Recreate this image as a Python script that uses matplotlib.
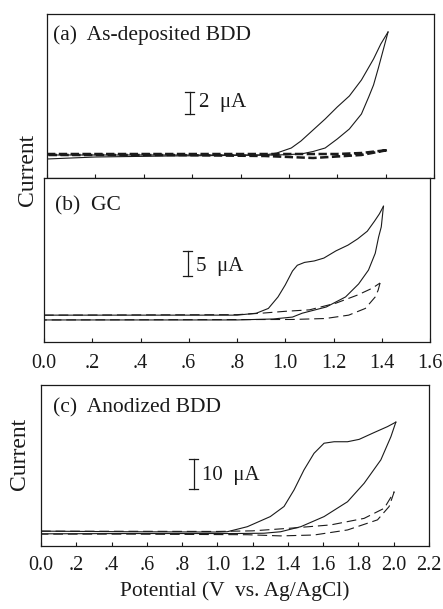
import matplotlib
matplotlib.use("Agg")
import matplotlib.pyplot as plt

plt.rcParams["font.family"] = ["Liberation Serif", "DejaVu Serif"]
plt.rcParams["lines.scale_dashes"] = False

INK = "#1a1a1a"

# (a) As-deposited BDD, current in uA
a_fwd_v = [0.0, 0.3, 0.6, 0.90, 0.95, 1.01, 1.05, 1.10, 1.15, 1.20, 1.25, 1.30, 1.35, 1.38, 1.41]
a_fwd_i = [0.0, 0.0, 0.0, 0.0, 0.2, 0.7, 1.4, 2.5, 3.6, 4.8, 5.9, 7.5, 9.6, 11.1, 12.3]
a_rev_v = [1.41, 1.39, 1.37, 1.35, 1.33, 1.30, 1.25, 1.20, 1.15, 1.10, 1.05, 0.95, 0.5, 0.2, 0.0]
a_rev_i = [12.3, 10.5, 8.7, 7.0, 5.8, 4.1, 2.6, 1.6, 0.7, 0.35, 0.1, 0.0, -0.1, -0.2, -0.4]
a_bg_v = [0.0, 0.6, 1.0, 1.2, 1.3, 1.41, 1.3, 1.1, 0.9, 0.5, 0.0]
a_bg_i = [0.1, 0.1, 0.1, 0.1, 0.2, 0.5, 0.0, -0.3, -0.1, 0.0, 0.0]

# (b) GC
b_fwd_v = [0.0, 0.8, 0.88, 0.93, 0.97, 1.00, 1.03, 1.05, 1.08, 1.12, 1.16, 1.21, 1.26, 1.30, 1.34, 1.37, 1.39, 1.407]
b_fwd_i = [0.4, 0.4, 0.8, 1.8, 4.2, 6.7, 9.6, 10.8, 11.4, 11.7, 12.3, 13.8, 15.0, 16.3, 17.9, 20.0, 21.5, 23.1]
b_rev_v = [1.407, 1.398, 1.387, 1.373, 1.345, 1.304, 1.25, 1.17, 1.07, 1.03, 0.95, 0.8, 0.0]
b_rev_i = [23.1, 18.8, 16.7, 13.3, 9.8, 6.9, 4.2, 2.1, 0.8, 0.0, -0.4, -0.6, -0.6]
b_bg_fwd_v = [0.0, 0.8, 0.9, 1.0, 1.1, 1.21, 1.30, 1.36, 1.393]
b_bg_fwd_i = [0.4, 0.5, 0.8, 1.2, 1.5, 2.9, 4.6, 6.0, 7.1]
b_bg_rev_v = [1.393, 1.385, 1.373, 1.332, 1.263, 1.167, 1.03, 0.0]
b_bg_rev_i = [7.1, 5.6, 4.2, 1.8, 0.4, -0.3, -0.5, -0.6]

# (c) Anodized BDD
c_fwd_v = [0.0, 0.5, 1.0, 1.056, 1.17, 1.30, 1.378, 1.435, 1.491, 1.548, 1.605, 1.662, 1.738, 1.804, 1.889, 1.965, 2.012]
c_fwd_i = [0.5, 0.3, 0.2, 0.3, 2.0, 5.4, 8.8, 14.4, 21.1, 26.7, 30.1, 30.6, 30.6, 31.4, 33.7, 35.7, 37.2]
c_rev_v = [2.012, 1.984, 1.927, 1.832, 1.738, 1.605, 1.473, 1.359, 1.264, 1.1, 0.5, 0.0]
c_rev_i = [37.2, 32.3, 24.5, 16.6, 10.4, 5.4, 2.0, 0.3, -0.2, -0.3, -0.3, -0.4]
c_bg_fwd_v = [0.0, 1.0, 1.2, 1.416, 1.643, 1.832, 1.946, 2.003]
c_bg_fwd_i = [0.5, 0.4, 0.6, 1.5, 2.6, 4.8, 8.2, 13.8]
c_bg_rev_v = [2.003, 1.974, 1.908, 1.738, 1.548, 1.359, 1.17, 0.5, 0.0]
c_bg_rev_i = [13.8, 8.8, 4.3, 0.9, -0.8, -1.1, -0.7, -0.5, -0.5]

ticks_16 = [0.0, 0.2, 0.4, 0.6, 0.8, 1.0, 1.2, 1.4, 1.6]
labels_16 = ["0.0", ".2", ".4", ".6", ".8", "1.0", "1.2", "1.4", "1.6"]
ticks_22 = [0.0, 0.2, 0.4, 0.6, 0.8, 1.0, 1.2, 1.4, 1.6, 1.8, 2.0, 2.2]
labels_22 = ["0.0", ".2", ".4", ".6", ".8", "1.0", "1.2", "1.4", "1.6", "1.8", "2.0", "2.2"]

W, H = 443, 609
fig = plt.figure(figsize=(W / 100, H / 100), dpi=100)


def px_axes(left, top, right, bottom):
    return fig.add_axes([left / W, 1 - bottom / H, (right - left) / W, (bottom - top) / H])


def style(ax, xmax, ticks):
    ax.set_xlim(0, xmax)
    ax.set_yticks([])
    ax.set_xticks(ticks)
    ax.tick_params(axis="x", direction="in", length=3, width=0.8, color=INK,
                   labelsize=14.5, pad=9, labelcolor=INK)
    for s in ax.spines.values():
        s.set_color(INK)
        s.set_linewidth(0.9)


def scale_bar(ax, x, y0, y1, text, tx, ty):
    cap = 0.012 * ax.get_xlim()[1]
    ax.plot([x, x], [y0, y1], color=INK, lw=0.9)
    ax.plot([x - cap, x + cap], [y0, y0], color=INK, lw=0.9)
    ax.plot([x - cap, x + cap], [y1, y1], color=INK, lw=0.9)
    ax.text(tx, ty, text, fontsize=15, color=INK, va="center", ha="left")


# ---- (a)
ax_a = px_axes(47, 14, 434, 178)
ax_a.plot(a_fwd_v, a_fwd_i, color=INK, lw=0.8)
ax_a.plot(a_rev_v, a_rev_i, color=INK, lw=0.8)
ax_a.plot(a_bg_v, a_bg_i, color=INK, lw=1.8, dashes=(6, 2.5))
ax_a.set_ylim(-2.3, 14.1)
style(ax_a, 1.6, ticks_16)
ax_a.set_xticklabels([])
ax_a.text(0.015, 0.87, "(a)  As-deposited BDD", transform=ax_a.transAxes,
          fontsize=15.5, color=INK, va="center")
scale_bar(ax_a, 0.59, 4.1, 6.3, "2  \u03bcA", 0.627, 5.2)

# ---- (b)
ax_b = px_axes(44, 178, 430, 342)
ax_b.plot(b_fwd_v, b_fwd_i, color=INK, lw=0.8)
ax_b.plot(b_rev_v, b_rev_i, color=INK, lw=0.8)
ax_b.plot(b_bg_fwd_v, b_bg_fwd_i, color=INK, lw=0.8, dashes=(7, 3.5))
ax_b.plot(b_bg_rev_v, b_bg_rev_i, color=INK, lw=0.8, dashes=(7, 3.5))
ax_b.set_ylim(-5.2, 29.0)
style(ax_b, 1.6, ticks_16)
ax_b.set_xticklabels(labels_16)
ax_b.text(0.028, 0.83, "(b)  GC", transform=ax_b.transAxes,
          fontsize=15.5, color=INK, va="center")
scale_bar(ax_b, 0.595, 8.5, 13.8, "5  \u03bcA", 0.628, 10.5)

# ---- (c)
ax_c = px_axes(41, 385, 429, 546)
ax_c.plot(c_fwd_v, c_fwd_i, color=INK, lw=0.8)
ax_c.plot(c_rev_v, c_rev_i, color=INK, lw=0.8)
ax_c.plot(c_bg_fwd_v, c_bg_fwd_i, color=INK, lw=0.8, dashes=(7, 3.5))
ax_c.plot(c_bg_rev_v, c_bg_rev_i, color=INK, lw=0.8, dashes=(7, 3.5))
ax_c.set_ylim(-4.5, 49.7)
style(ax_c, 2.2, ticks_22)
ax_c.set_xticklabels(labels_22)
ax_c.tick_params(axis="x", pad=7)
ax_c.text(0.03, 0.855, "(c)  Anodized BDD", transform=ax_c.transAxes,
          fontsize=15.5, color=INK, va="center")
scale_bar(ax_c, 0.866, 14.7, 24.7, "10  \u03bcA", 0.914, 19.4)
ax_c.set_xlabel("Potential (V  vs. Ag/AgCl)", fontsize=15.5, color=INK, labelpad=5)

fig.text(27 / W, 1 - 170 / H, "Current", rotation=90, fontsize=17,
         color=INK, ha="center", va="center")
fig.text(19 / W, 1 - 454 / H, "Current", rotation=90, fontsize=17,
         color=INK, ha="center", va="center")

fig.savefig("out.png", dpi=100, facecolor="white")
